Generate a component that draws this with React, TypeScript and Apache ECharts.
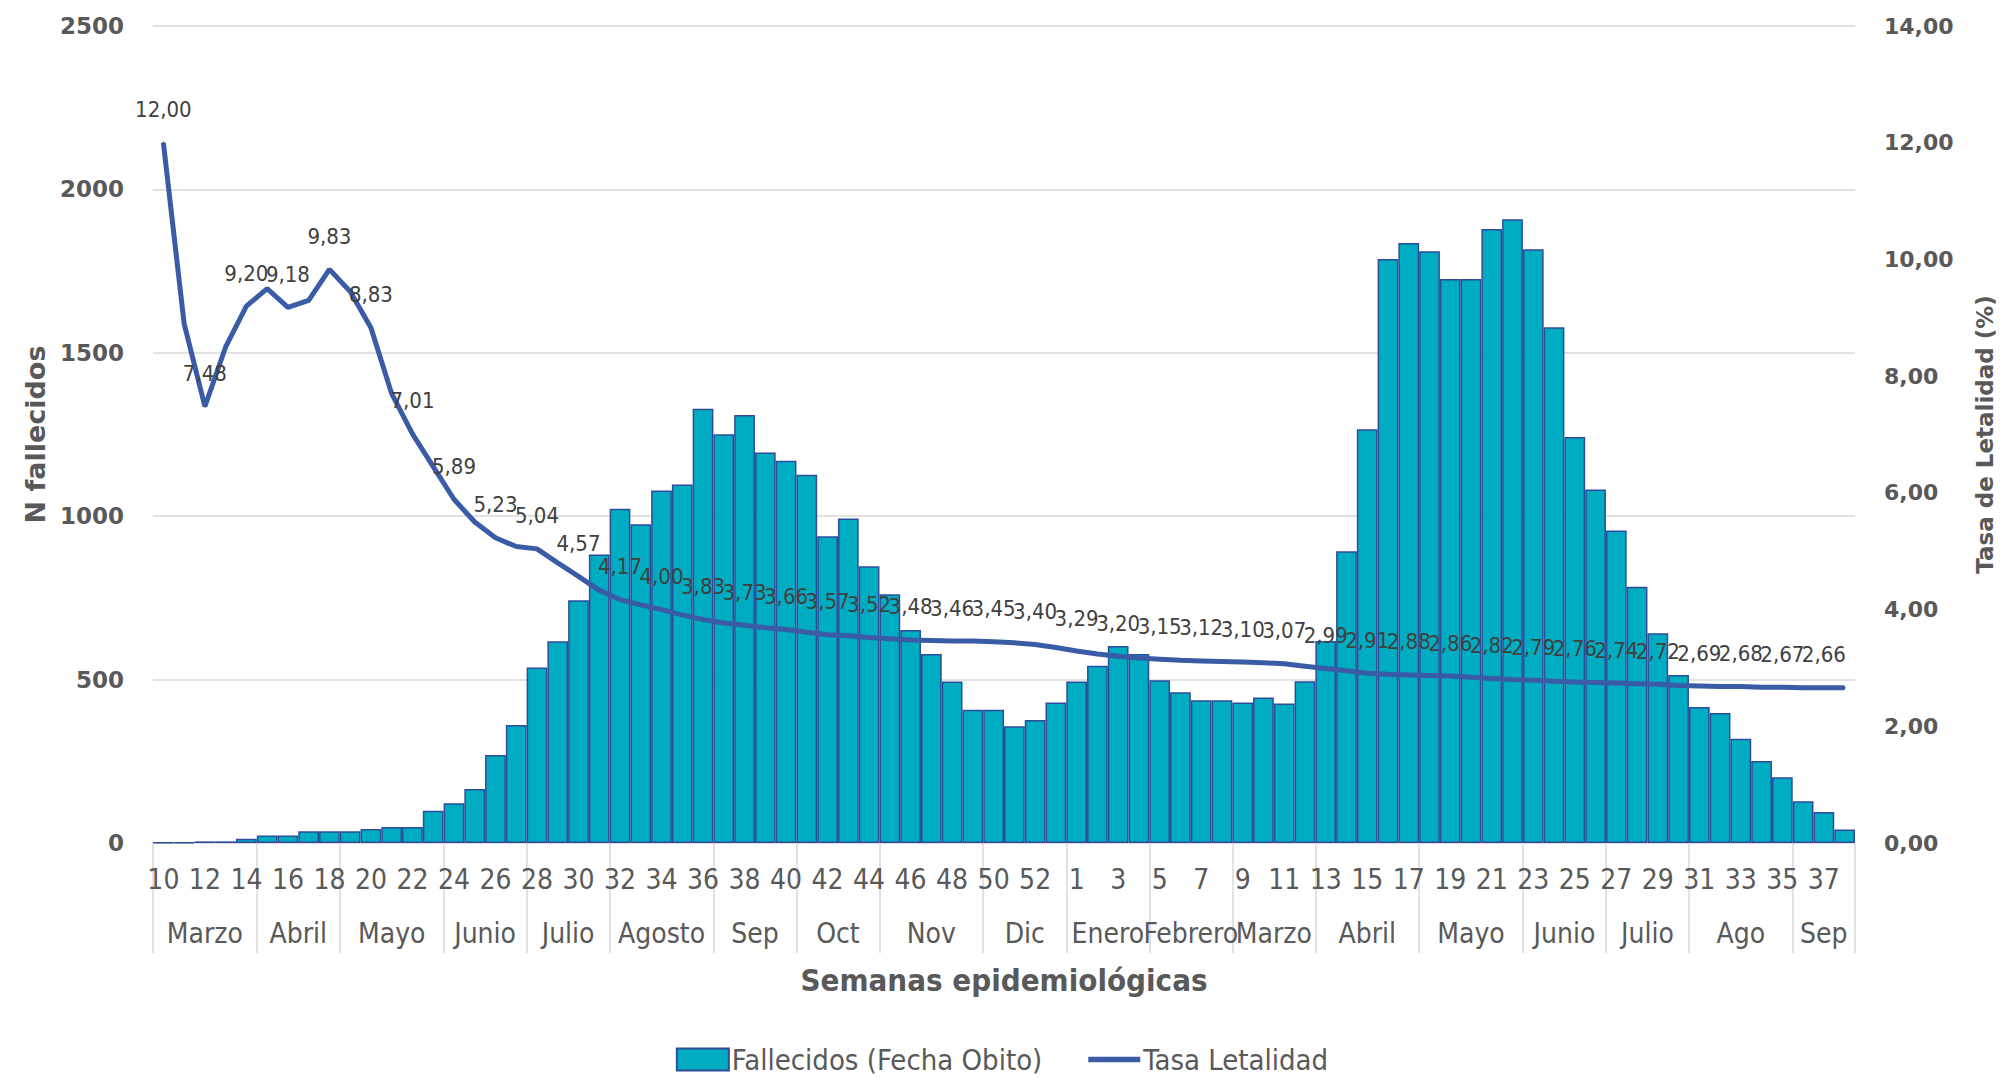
import React, { useEffect, useRef } from "react";
import * as echarts from "echarts";

// Epidemiological weeks (2020 wk 10-53, 2021 wk 1-38)
const weeks: string[] = [
  "10","11","12","13","14","15","16","17","18","19","20","21","22","23","24","25","26","27","28","29","30","31","32","33","34","35","36","37","38","39","40","41","42","43","44","45","46","47","48","49","50","51","52","53",
  "1","2","3","4","5","6","7","8","9","10","11","12","13","14","15","16","17","18","19","20","21","22","23","24","25","26","27","28","29","30","31","32","33","34","35","36","37","38",
];

const fallecidos: number[] = [
  1, 2, 5, 5, 13, 23, 23, 36, 36, 36, 43, 49, 49, 99, 122, 165, 269, 361, 537, 617, 743, 883,
  1023, 975, 1079, 1097, 1329, 1251, 1310, 1195, 1170, 1127, 939, 993, 847, 761, 652, 578, 494, 408, 408, 357, 376, 430,
  494, 542, 603, 578, 498, 461, 437, 437, 430, 445, 427, 495, 618, 893, 1266, 1787, 1836, 1811, 1726, 1726, 1879, 1909, 1817,
  1578, 1242, 1082, 956, 784, 642, 514, 416, 398, 319, 251, 201, 128, 95, 41,
];

const tasaLetalidad: number[] = [
  12.0, 8.9, 7.48, 8.5, 9.2, 9.5, 9.18, 9.3, 9.83, 9.45, 8.83, 7.7, 7.01, 6.45, 5.89, 5.5, 5.23, 5.08, 5.04, 4.8, 4.57, 4.33,
  4.17, 4.08, 4.0, 3.91, 3.83, 3.77, 3.73, 3.69, 3.66, 3.61, 3.57, 3.55, 3.52, 3.5, 3.48, 3.47, 3.46, 3.46, 3.45, 3.43, 3.4, 3.35,
  3.29, 3.24, 3.2, 3.17, 3.15, 3.13, 3.12, 3.11, 3.1, 3.09, 3.07, 3.03, 2.99, 2.95, 2.91, 2.89, 2.88, 2.87, 2.86, 2.84, 2.82, 2.8,
  2.79, 2.77, 2.76, 2.75, 2.74, 2.73, 2.72, 2.7, 2.69, 2.68, 2.68, 2.67, 2.67, 2.66, 2.66, 2.66,
];

const monthNames: string[] = [
  "Marzo","Abril","Mayo","Junio","Julio","Agosto","Sep","Oct","Nov","Dic",
  "Enero","Febrero","Marzo","Abril","Mayo","Junio","Julio","Ago","Sep",
];
const monthWeekCounts: number[] = [5, 4, 5, 4, 4, 5, 4, 4, 5, 4, 4, 4, 4, 5, 5, 4, 4, 5, 3];

const leftTicks = { min: 0, max: 2500, interval: 500 };
const rightTicks = { min: 0, max: 14, interval: 2 };

const NARROW = "'Liberation Sans Narrow', 'Arial Narrow', 'DejaVu Sans Condensed', sans-serif";
const WIDE = "'DejaVu Sans', Verdana, sans-serif";

export default function App() {
  const ref = useRef<HTMLDivElement>(null);

  useEffect(() => {
    if (!ref.current) return;
    const chart = echarts.init(ref.current, undefined, { renderer: "svg" });

    // month boundaries and centers (in category units)
    const boundaries = new Set<number>();
    const centers: Record<string, string> = {};
    let acc = 0;
    monthWeekCounts.forEach((n, i) => {
      boundaries.add(acc);
      centers[String(acc + n / 2)] = monthNames[i];
      acc += n;
    });

    const fmt = (v: number) => v.toFixed(2).replace(".", ",");

    chart.setOption({
      animation: false,
      backgroundColor: "#ffffff",
      grid: { left: 153, right: 148, top: 26, bottom: 235, containLabel: false },
      legend: {
        top: 1040,
        left: "center",
        itemWidth: 52,
        itemHeight: 22,
        itemGap: 46,
        textStyle: { fontFamily: NARROW, fontSize: 29, color: "#595959", padding: [0, 0, 0, -2] },
        data: [
          { name: "Fallecidos (Fecha Obito)", icon: "rect" },
          { name: "Tasa Letalidad", icon: "path://M0 0 L100 0 L100 11 L0 11 Z" },
        ],
      },
      xAxis: [
        {
          type: "category",
          data: weeks,
          gridIndex: 0,
          position: "bottom",
          boundaryGap: true,
          axisLine: { show: true, lineStyle: { color: "#D9D9D9", width: 1.5 } },
          axisTick: {
            show: true,
            alignWithLabel: false,
            length: 110,
            lineStyle: { color: "#D9D9D9", width: 1.5 },
            interval: (index: number) => boundaries.has(index),
          },
          axisLabel: {
            interval: 1,
            margin: 22,
            fontFamily: NARROW,
            fontSize: 28,
            color: "#595959",
          },
          splitLine: { show: false },
        },
        {
          type: "value",
          gridIndex: 0,
          position: "bottom",
          min: 0,
          max: weeks.length,
          interval: 0.5,
          axisLine: { show: false },
          axisTick: { show: false },
          splitLine: { show: false },
          axisLabel: {
            show: true,
            margin: 76,
            fontFamily: NARROW,
            fontSize: 28,
            color: "#595959",
            showMinLabel: true,
            showMaxLabel: true,
            formatter: (v: number) => centers[String(v)] || "",
          },
          name: "Semanas epidemiológicas",
          nameLocation: "middle",
          nameGap: 121,
          nameTextStyle: { fontFamily: NARROW, fontSize: 31, fontWeight: "bold", color: "#595959" },
        },
      ],
      yAxis: [
        {
          type: "value",
          ...leftTicks,
          position: "left",
          axisLine: { show: false },
          axisTick: { show: false },
          axisLabel: {
            margin: 29,
            fontFamily: WIDE,
            fontWeight: "bold",
            fontSize: 23,
            color: "#595959",
            formatter: (v: number) => String(v),
          },
          splitLine: { show: true, lineStyle: { color: "#D9D9D9", width: 1.5 } },
          name: "N fallecidos",
          nameLocation: "middle",
          nameRotate: 90,
          nameGap: 104,
          nameTextStyle: { fontFamily: WIDE, fontWeight: "bold", fontSize: 27, color: "#595959" },
        },
        {
          type: "value",
          ...rightTicks,
          position: "right",
          axisLine: { show: false },
          axisTick: { show: false },
          axisLabel: {
            margin: 29,
            fontFamily: WIDE,
            fontWeight: "bold",
            fontSize: 22,
            color: "#595959",
            formatter: (v: number) => fmt(v),
          },
          splitLine: { show: false },
          name: "Tasa de Letalidad (%)",
          nameLocation: "middle",
          nameRotate: 90,
          nameGap: 118,
          nameTextStyle: { fontFamily: WIDE, fontWeight: "bold", fontSize: 23, color: "#595959" },
        },
      ],
      series: [
        {
          name: "Fallecidos (Fecha Obito)",
          type: "bar",
          xAxisIndex: 0,
          yAxisIndex: 0,
          data: fallecidos,
          barCategoryGap: "0%",
          itemStyle: { color: "#00ACC1", borderColor: "#2E4C9A", borderWidth: 1.5 },
        },
        {
          name: "Tasa Letalidad",
          type: "line",
          xAxisIndex: 0,
          yAxisIndex: 1,
          data: tasaLetalidad,
          symbol: "circle",
          symbolSize: 2,
          showSymbol: true,
          lineStyle: { color: "#3A5BA6", width: 5 },
          itemStyle: { color: "#3A5BA6" },
          label: {
            show: true,
            position: "top",
            distance: 21,
            fontFamily: NARROW,
            fontSize: 22,
            color: "#404040",
            formatter: (p: any) => (p.dataIndex % 2 === 0 ? fmt(p.value) : ""),
          },
          z: 5,
        },
      ],
    });

    return () => chart.dispose();
  }, []);

  return (
    <div
      ref={ref}
      style={{ position: "fixed", left: 0, top: 0, width: 2004, height: 1078, background: "#fff" }}
    />
  );
}
